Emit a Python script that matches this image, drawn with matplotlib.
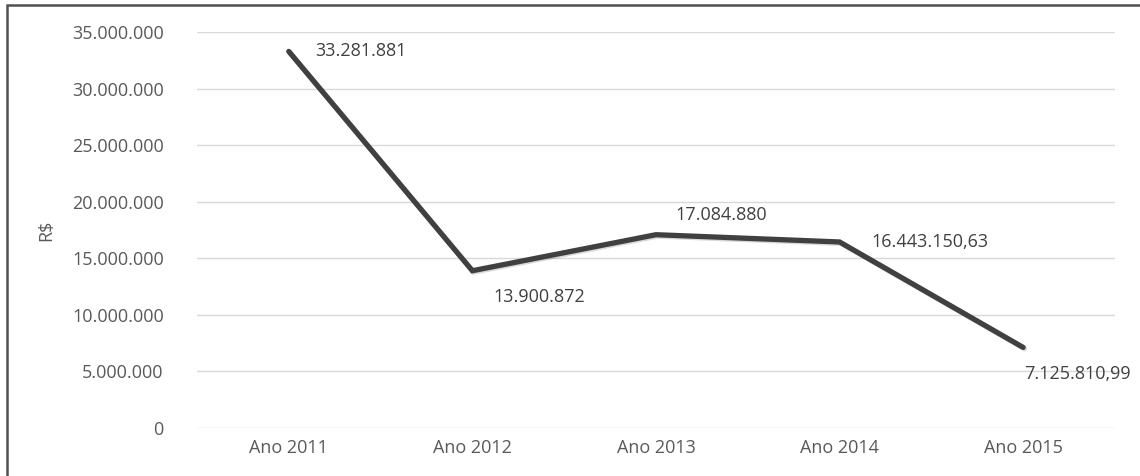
import matplotlib
matplotlib.use("Agg")
import matplotlib.pyplot as plt
import matplotlib.patheffects as pe
from matplotlib.patches import Rectangle
from matplotlib.ticker import FuncFormatter

# data
anos = ["Ano 2011", "Ano 2012", "Ano 2013", "Ano 2014", "Ano 2015"]
valores = [33281881, 13900872, 17084880, 16443150.63, 7125810.99]
rotulos = ["33.281.881", "13.900.872", "17.084.880", "16.443.150,63", "7.125.810,99"]

plt.rcParams['font.family'] = ['Open Sans', 'DejaVu Sans']

fig = plt.figure(figsize=(11.4, 4.76), dpi=100)
ax = fig.add_axes([0.1728, 0.1008, 0.978 - 0.1728, 0.9328 - 0.1008])

x = list(range(len(anos)))
ax.plot(x, valores, color="#404040", lw=3.8, solid_capstyle="round",
        solid_joinstyle="miter",
        path_effects=[pe.SimpleLineShadow(offset=(1, -1), alpha=0.15, shadow_color="#000000"),
                      pe.Normal()])

# label offsets in points (dx, dy)
offs = [(19, 0), (15, -19), (14, 14), (23, 0), (1, -19)]
for xi, v, t, (dx, dy) in zip(x, valores, rotulos, offs):
    ax.annotate(t, (xi, v), xytext=(dx, dy), textcoords="offset points",
                ha="left", va="center", fontsize=13, color="#404040")

ax.set_xlim(-0.5, len(anos) - 0.5)
ax.set_ylim(0, 35000000)
ax.set_yticks(range(0, 35000001, 5000000))
ax.yaxis.set_major_formatter(FuncFormatter(lambda v, p: f"{int(v):,}".replace(",", ".")))
ax.set_xticks(x)
ax.set_xticklabels(anos)
ax.grid(axis="y", color="#d9d9d9", lw=1)
ax.set_axisbelow(True)
for s in ax.spines.values():
    s.set_visible(False)
ax.tick_params(length=0, labelsize=13, colors="#595959")
ax.tick_params(axis="y", pad=24)
ax.tick_params(axis="x", pad=8)
ax.set_ylabel("R$", fontsize=13, color="#595959", labelpad=12)

# frame around the picture (left and top visible)
fig.patches.append(Rectangle((0.006, -0.1), 1.2, 1.0895, transform=fig.transFigure,
                             fill=False, ec="#505050", lw=1.8))

fig.savefig("out.png", dpi=100)
